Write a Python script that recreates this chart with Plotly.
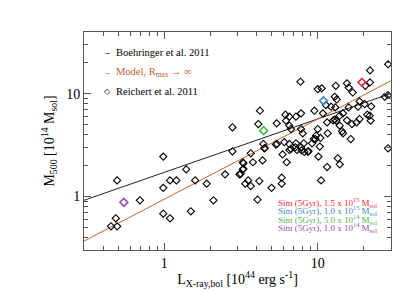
import plotly.graph_objects as go

# Reichert et al. 2011 sample: L_X (10^44 erg/s), M500 (10^14 Msol)
reichert_L = [0.450, 0.493, 0.483, 0.493, 0.694, 0.985, 0.985, 0.985, 1.09, 1.09,
              1.20, 1.39, 1.59, 1.89, 2.09, 1.49, 2.78, 2.49, 3.09, 3.25,
              3.25, 2.78, 3.66, 4.48, 5.90, 6.53, 7.32, 7.86, 8.19, 8.70,
              10.1, 13.5, 13.9, 11.5, 10.5, 28.7, 3.28, 3.78, 4.37, 3.28,
              3.15, 3.52, 3.66, 3.37, 4.16, 5.00, 5.82, 5.82, 6.27, 4.05,
              5.34, 7.15, 9.18, 9.66, 28.7, 21.9, 21.9, 20.4, 7.71, 10.0,
              10.6, 13.1, 15.5, 15.9, 16.9, 12.9, 13.3, 11.3, 12.2, 13.0,
              18.7, 20.2, 18.3, 22.3, 28.7, 27.3, 15.9, 4.20, 9.51, 10.8,
              6.15, 6.53, 7.21, 7.78, 4.10, 5.40, 6.21, 6.53, 6.69, 7.78,
              7.98, 11.5, 12.6, 12.9, 13.2, 13.9, 14.6, 16.7, 17.9, 18.7,
              21.0, 21.8, 13.9, 14.4, 14.6, 11.6, 10.0, 9.75, 9.42, 16.4,
              5.42, 4.42, 4.52, 6.06, 6.53, 7.21, 8.10, 7.78, 8.61, 6.69,
              10.3, 15.5, 22.1, 10.4]
reichert_M = [0.511, 0.511, 0.611, 1.43, 0.915, 2.44, 1.21, 0.678, 0.611, 1.43,
              1.43, 1.83, 1.43, 1.33, 0.915, 0.715, 2.75, 1.64, 1.64, 1.83,
              2.15, 4.71, 2.63, 2.94, 2.56, 2.83, 2.83, 2.80, 2.71, 2.75,
              2.44, 2.35, 2.05, 1.93, 1.43, 2.94, 2.10, 2.15, 2.24, 1.85,
              1.66, 1.43, 1.26, 1.33, 1.41, 1.21, 1.52, 1.33, 2.15, 0.927,
              3.20, 3.01, 3.29, 3.62, 19.4, 16.9, 12.9, 11.96, 13.1, 11.1,
              11.3, 11.96, 12.6, 11.5, 10.3, 9.35, 8.80, 7.75, 7.48, 7.36,
              8.42, 7.93, 7.48, 7.53, 9.69, 9.35, 7.36, 6.84, 6.84, 6.44,
              6.25, 5.98, 5.98, 6.44, 5.07, 5.15, 5.47, 4.89, 4.53, 4.53,
              4.12, 5.26, 5.50, 5.60, 5.45, 6.11, 6.44, 5.07, 5.26, 5.67,
              6.25, 6.11, 4.89, 4.31, 4.12, 4.12, 4.53, 3.91, 3.62, 3.62,
              3.24, 3.24, 2.96, 3.37, 3.24, 3.29, 3.29, 3.01, 2.73, 2.90,
              3.06, 5.51, 5.47, 3.71]

# Relations (end points)
line_L = [0.3, 30]
boehringer_M = [0.915, 10.07]
model_M = [0.366, 13.4]

# Simulated clusters
sim_labels = ["1.5 x 10<sup>15</sup>", "1.0 x 10<sup>15</sup>",
              "5.0 x 10<sup>14</sup>", "1.0 x 10<sup>14</sup>"]
sim_L = [19.4, 10.9, 4.44, 0.545]
sim_M = [12.96, 8.55, 4.37, 0.874]
sim_colors = ["#ee2a36", "#3f86c8", "#48b848", "#9c4fb6"]

FONT = "Liberation Serif"
ORANGE = "#c0652d"
AX = "#555555"

fig = go.Figure()
fig.add_trace(go.Scatter(x=line_L, y=boehringer_M, mode="lines",
                         line=dict(color="#222222", width=1), showlegend=False))
fig.add_trace(go.Scatter(x=line_L, y=model_M, mode="lines",
                         line=dict(color=ORANGE, width=1), showlegend=False))
fig.add_trace(go.Scatter(x=reichert_L, y=reichert_M, mode="markers",
                         marker=dict(symbol="diamond-open", size=5.5,
                                     color="black", line=dict(width=1.1)),
                         showlegend=False))
for L, M, c in zip(sim_L, sim_M, sim_colors):
    fig.add_trace(go.Scatter(x=[L], y=[M], mode="markers",
                             marker=dict(symbol="diamond-open", size=6, color=c,
                                         line=dict(width=1.6)),
                             showlegend=False))

minor_x = [0.4, 0.5, 0.6, 0.7, 0.8, 0.9, 2, 3, 4, 5, 6, 7, 8, 9, 20, 30]
minor_y = [0.3, 0.4, 0.5, 0.6, 0.7, 0.8, 0.9, 2, 3, 4, 5, 6, 7, 8, 9, 20, 30, 40]

axis_common = dict(type="log", showgrid=False, zeroline=False, showline=True,
                   linecolor=AX, linewidth=1, mirror="ticks", ticks="inside",
                   ticklen=7, tickcolor=AX, tickwidth=1,
                   tickfont=dict(family=FONT, size=14, color="black"))

fig.update_layout(
    width=407, height=291,
    margin=dict(l=76, r=24, t=24, b=49),
    paper_bgcolor="white", plot_bgcolor="white",
    font=dict(family=FONT, color="black"),
    xaxis=dict(**axis_common, range=[-0.5229, 1.4771], tickvals=[1, 10],
               ticktext=["1", "10"],
               minor=dict(ticks="inside", ticklen=4, tickcolor=AX, tickvals=minor_x),
               title=dict(text="L<sub>X-ray,bol</sub> [10<sup>44</sup> erg s<sup>-1</sup>]",
                          font=dict(family=FONT, size=14), standoff=4)),
    yaxis=dict(**axis_common, range=[-0.5229, 1.6021], tickvals=[1, 10],
               ticktext=["1", "10"],
               minor=dict(ticks="inside", ticklen=4, tickcolor=AX, tickvals=minor_y),
               title=dict(text="M<sub>500</sub> [10<sup>14</sup> M<sub>sol</sub>]",
                          font=dict(family=FONT, size=14), standoff=8)),
)

# Upper-left legend
leg_y = [0.908, 0.812, 0.729]
leg_txt = ["Boehringer et al. 2011", "Model, R<sub>max</sub> → ∞", "Reichert et al. 2011"]
leg_col = ["black", ORANGE, "black"]
leg_sym = ["–", "–", "◇"]
for yy, t, c, s in zip(leg_y, leg_txt, leg_col, leg_sym):
    fig.add_annotation(xref="paper", yref="paper", x=0.0755, y=yy, text=s,
                       showarrow=False, xanchor="center", yanchor="middle",
                       font=dict(family=FONT if s != "◇" else "DejaVu Sans",
                                 size=10 if s != "◇" else 8, color=c))
    fig.add_annotation(xref="paper", yref="paper", x=0.098, y=yy, text=t,
                       showarrow=False, xanchor="left", yanchor="middle",
                       font=dict(family=FONT, size=10.5, color=c))

# Lower-right simulation legend
sim_y = [0.2156, 0.1804, 0.1422, 0.1055]
for yy, lab, c in zip(sim_y, sim_labels, sim_colors):
    fig.add_annotation(xref="paper", yref="paper", x=0.962, y=yy,
                       text="Sim (5Gyr), " + lab + " M<sub>sol</sub>",
                       showarrow=False, xanchor="right", yanchor="middle",
                       font=dict(family=FONT, size=9, color=c))

fig.write_html("out.html")
